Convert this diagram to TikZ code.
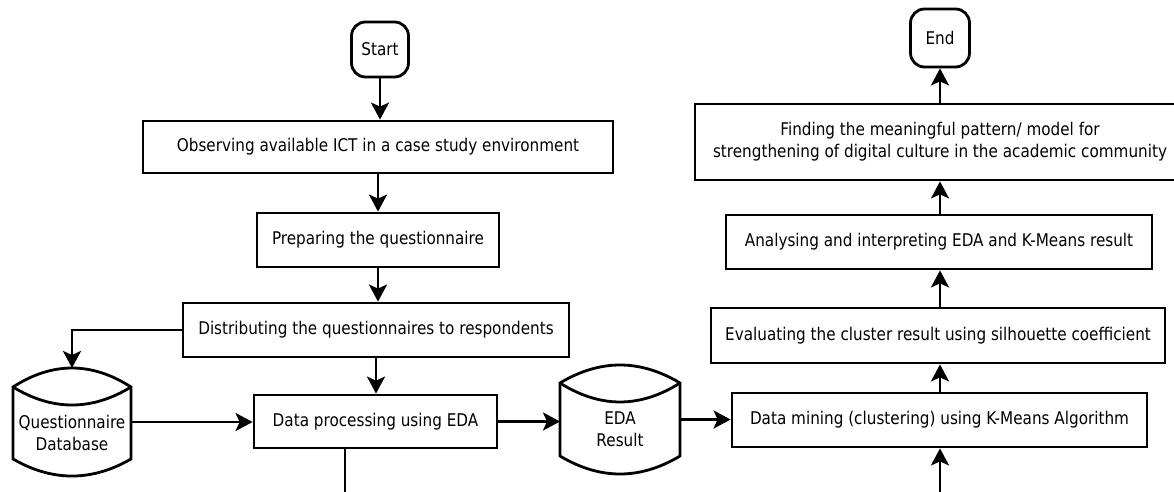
\documentclass[tikz,border=0pt]{standalone}
\usepackage{fontspec}
\setmainfont{DejaVu Sans}[FakeStretch=0.87]
\usetikzlibrary{arrows.meta}
\newcommand\fsz{\fontsize{17.5}{22}\selectfont}
\begin{document}
\begin{tikzpicture}[x=1pt,y=-1pt,
  lw/.style={line width=2.8pt},
  box/.style={draw, lw, fill=white, rectangle, inner sep=0pt, font=\fsz, align=center},
  term/.style={box, rounded corners=14pt},
  conn/.style={lw, -{Stealth[length=17pt,width=18pt,inset=4pt]}},
  lbl/.style={font=\fsz, align=center, inner sep=0pt},
  ghost/.style={draw=none, inner sep=0pt, outer sep=0pt, rectangle}
]
\fill[white] (0,0) rectangle (1174,492);
\useasboundingbox (0,0) rectangle (1174,492);

% cylinders
\draw[lw, fill=white] (13,387) .. controls (52.3,361.7) and (91.7,361.7) .. (131,387) -- (131,459) .. controls (91.7,481.7) and (52.3,481.7) .. (13,459) -- cycle;
\draw[lw] (13,387) .. controls (52.3,411) and (91.7,411) .. (131,387);
\draw[lw, fill=white] (560,383) .. controls (600,359) and (640,359) .. (680,383) -- (680,456) .. controls (640,480) and (600,480) .. (560,456) -- cycle;
\draw[lw] (560,383) .. controls (600,408.3) and (640,408.3) .. (680,383);
\node[ghost, minimum width=118pt, minimum height=108pt] (qdb) at (72,422) {};
\node[ghost, minimum width=120pt, minimum height=109pt] (eda) at (620,419.5) {};
\node[lbl] (qdbt) at (72,433) {Questionnaire\\Database};
\node[lbl] (edat) at (620,429) {EDA\\Result};

% boxes
\node[term, minimum width=57pt, minimum height=55pt] (start) at (380,49.5) {Start};
\node[box, minimum width=470pt, minimum height=52pt] (obs) at (378,147) {Observing available ICT in a case study environment};
\node[box, minimum width=242pt, minimum height=54pt] (prep) at (378,240) {Preparing the questionnaire};
\node[box, minimum width=386pt, minimum height=54pt] (dist) at (376,330) {Distributing the questionnaires to respondents};
\node[box, minimum width=243pt, minimum height=53pt] (dp) at (375.5,421.5) {Data processing using EDA};
\node[box, minimum width=415pt, minimum height=54pt] (dm) at (939.5,420) {Data mining (clustering) using K-Means Algorithm};
\node[box, minimum width=454pt, minimum height=55pt] (eval) at (938,335.5) {Evaluating the cluster result using silhouette coefficient};
\node[box, minimum width=426pt, minimum height=54pt] (ana) at (939,242) {Analysing and interpreting EDA and K-Means result};
\node[box, minimum width=490pt, minimum height=76pt] (find) at (940,142) {Finding the meaningful pattern/ model for\\strengthening of digital culture in the academic community};
\node[term, minimum width=59pt, minimum height=58pt] (end) at (940,38) {End};

% connectors
\draw[conn] (start.south) -- (start.south |- obs.north);
\draw[conn] (obs.south) -- (obs.south |- prep.north);
\draw[conn] (prep.south) -- (prep.south |- dist.north);
\draw[conn] (dist.south) -- (dist.south |- dp.north);
\draw[conn] (dist.west) -| (qdb.north);
\draw[conn] (qdb.east) -- (qdb.east -| dp.west);
\draw[conn] (dp.east) -- (dp.east -| eda.west);
\draw[conn] (eda.east) -- (eda.east -| dm.west);
\coordinate (dpout) at (345,493);
\draw[lw] (dp.south -| dpout) -- (dpout);
\coordinate (dmin) at (940,493);
\draw[conn] (dmin) -- (dmin |- dm.south);
\draw[conn] (dm.north -| dmin) -- (dmin |- eval.south);
\draw[conn] (eval.north -| dmin) -- (dmin |- ana.south);
\draw[conn] (ana.north -| dmin) -- (dmin |- find.south);
\draw[conn] (find.north -| dmin) -- (dmin |- end.south);
\end{tikzpicture}
\end{document}
